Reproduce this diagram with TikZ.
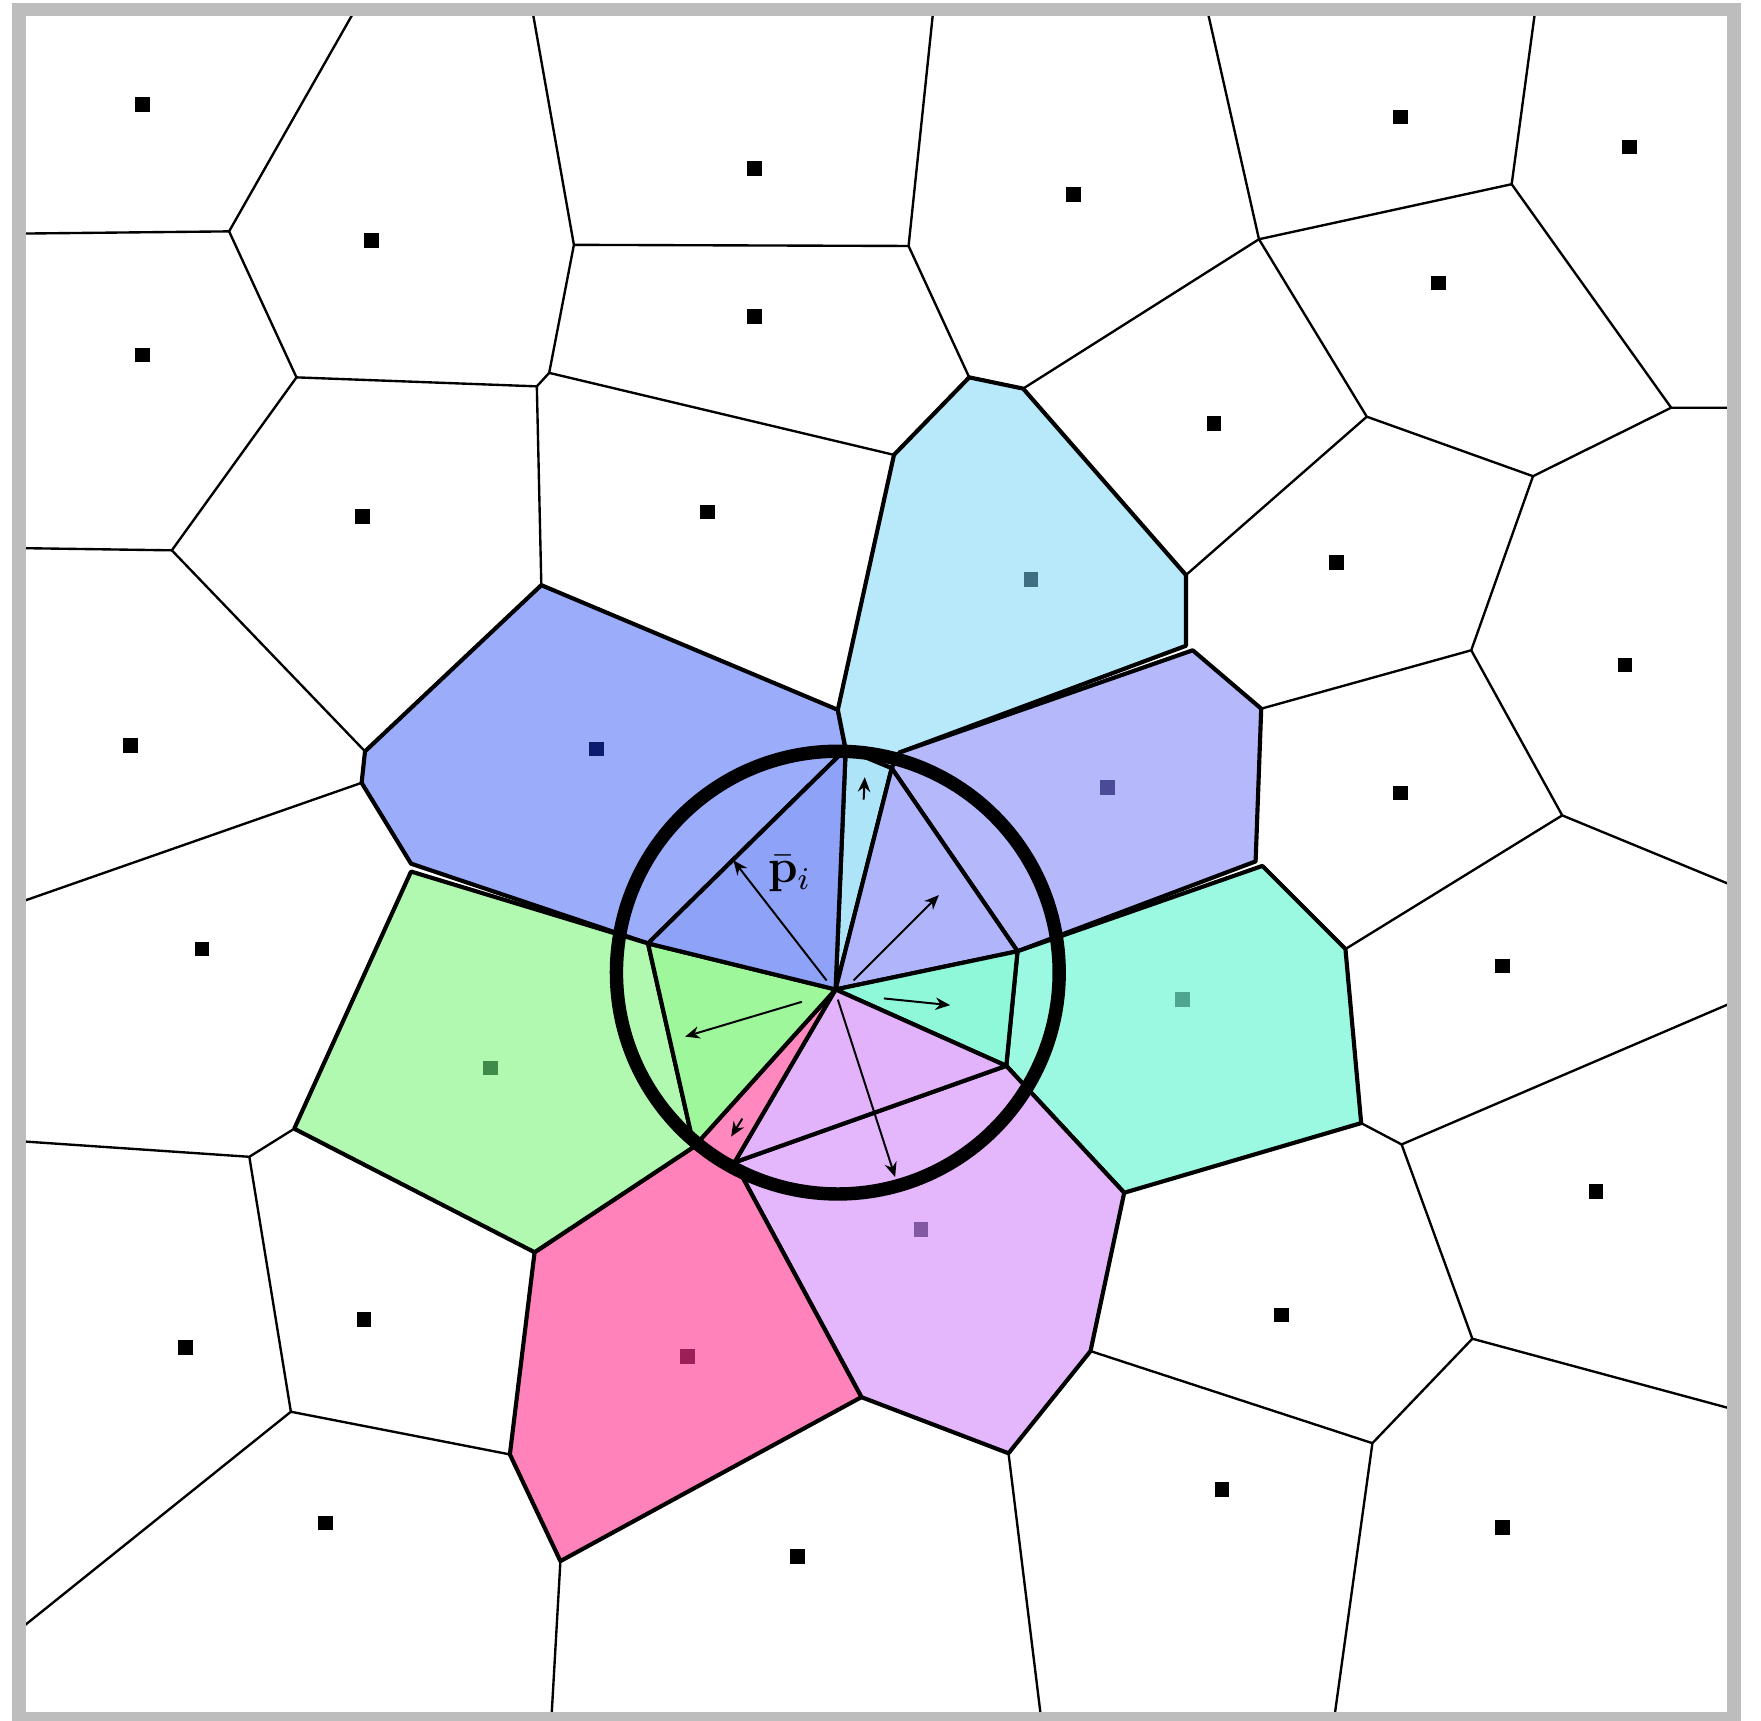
\documentclass[tikz,border=0pt]{standalone}
\usepackage{amsmath}
\usepackage{amssymb}
\usepackage{tikz}
\usepackage{xcolor}
\usetikzlibrary{arrows.meta}
\definecolor{vcblue}{HTML}{9BADFA}
\definecolor{vcbluetri}{HTML}{8EA2F8}
\definecolor{vcbluedot}{HTML}{0B1C6E}
\definecolor{vcsky}{HTML}{B8E9FB}
\definecolor{vcskytri}{HTML}{ADE4F8}
\definecolor{vcskydot}{HTML}{3F6E82}
\definecolor{vclav}{HTML}{B5B9FB}
\definecolor{vclavtri}{HTML}{B0B4FA}
\definecolor{vclavdot}{HTML}{4B4A96}
\definecolor{vcmint}{HTML}{9AF9E0}
\definecolor{vcminttri}{HTML}{8EF8D9}
\definecolor{vcmintdot}{HTML}{4FA68E}
\definecolor{vcpurple}{HTML}{E4B6FB}
\definecolor{vcpurpletri}{HTML}{E2B2FB}
\definecolor{vcpurpledot}{HTML}{8358A3}
\definecolor{vcpink}{HTML}{FF82BA}
\definecolor{vcpinktri}{HTML}{FF88BE}
\definecolor{vcpinkdot}{HTML}{9C2058}
\definecolor{vcgreen}{HTML}{B1F9B1}
\definecolor{vcgreentri}{HTML}{9EF89B}
\definecolor{vcgreendot}{HTML}{3E8B4A}
\definecolor{vcframe}{HTML}{BDBDBD}
\tikzset{
  vor/.style={draw=black, line width=0.6pt, line join=round},
  cellb/.style={draw=black, line width=1.05pt, line join=round},
  site/.style={rectangle, fill=black, draw=none, inner sep=0pt, minimum size=1.3mm},
  push/.style={-{Stealth[length=1.3mm,width=1.1mm]}, line width=0.5pt},
  ring/.style={draw=black, line width=3.4pt},
  frame/.style={draw=vcframe, line width=3.4pt}
}

\begin{document}
\begin{tikzpicture}[x=0.01cm, y=-0.01cm]
  \useasboundingbox (0,0) rectangle (1568,1532);
  % inserted site and its cell
  \coordinate (C) at (744,881);
  \coordinate (A1) at (753,667);
  \coordinate (A2) at (794,684);
  \coordinate (A3) at (906,847);
  \coordinate (A4) at (896,949);
  \coordinate (A5) at (654,1035);
  \coordinate (A6) at (618,1021);
  \coordinate (A7) at (577,840);
  \coordinate (P) at (801,670);
  % voronoi vertices
  \coordinate (V1) at (204,206);
  \coordinate (V2) at (264,336);
  \coordinate (V3) at (478,344);
  \coordinate (V4) at (153,490);
  \coordinate (V5) at (325,669);
  \coordinate (Va) at (489,332);
  \coordinate (Vc) at (511,218);
  \coordinate (Vd) at (809,219);
  \coordinate (Ve) at (863,336);
  \coordinate (Vf) at (1121,213);
  \coordinate (Vg) at (1346,164);
  \coordinate (Vh) at (1217,371);
  \coordinate (Vi) at (1365,424);
  \coordinate (Vj) at (1488,363);
  \coordinate (Vk) at (911,346);
  \coordinate (Vl) at (796,405);
  \coordinate (Vm) at (1056,512);
  \coordinate (Vmb) at (1056,575);
  \coordinate (Vml) at (1062,579);
  \coordinate (Vn) at (1310,579);
  \coordinate (Vo) at (1123,631);
  \coordinate (Vol) at (1118,767);
  \coordinate (Voc) at (1124,771);
  \coordinate (Vp) at (1391,726);
  \coordinate (Vq) at (1198,845);
  \coordinate (Vr) at (1212,1000);
  \coordinate (Vs) at (1248,1019);
  \coordinate (Vt) at (1311,1192);
  \coordinate (Vu) at (1222,1285);
  \coordinate (Vcp) at (1001,1062);
  \coordinate (Vv) at (971,1203);
  \coordinate (Vw) at (898,1294);
  \coordinate (Vx) at (767,1244);
  \coordinate (Vy) at (499,1390);
  \coordinate (Vz) at (454,1295);
  \coordinate (W1) at (476,1115);
  \coordinate (W2) at (262,1005);
  \coordinate (W3) at (222,1030);
  \coordinate (W4) at (259,1257);
  \coordinate (W5) at (322,697);
  \coordinate (W6b) at (366,769);
  \coordinate (W6g) at (366,776);
  \coordinate (W7) at (482,521);
  \coordinate (W8) at (746,632);
  % ends on the border
  \coordinate (b1) at (316,9);
  \coordinate (b2) at (16,208);
  \coordinate (b3) at (16,488);
  \coordinate (b4) at (474,9);
  \coordinate (b5) at (831,9);
  \coordinate (b6) at (1075,9);
  \coordinate (b7) at (1367,9);
  \coordinate (b8) at (1544,363);
  \coordinate (b9) at (1544,789);
  \coordinate (b10) at (1544,892);
  \coordinate (b11) at (1544,1255);
  \coordinate (b12) at (1188,1530);
  \coordinate (b13) at (927,1530);
  \coordinate (b14) at (491,1530);
  \coordinate (b15) at (16,1452);
  \coordinate (b16) at (16,1016);
  \coordinate (b17) at (16,804);

  % thin edges
  \draw[vor] (b1) -- (V1) -- (b2);
  \draw[vor] (V1) -- (V2) -- (V3) -- (Va) -- (Vc) -- (b4);
  \draw[vor] (V2) -- (V4) -- (b3);
  \draw[vor] (V4) -- (V5);
  \draw[vor] (V3) -- (W7);
  \draw[vor] (Vc) -- (Vd) -- (b5);
  \draw[vor] (Vd) -- (Ve);
  \draw[vor] (Va) -- (Vl);
  \draw[vor] (Vk) -- (Vf) -- (b6);
  \draw[vor] (Vf) -- (Vg) -- (b7);
  \draw[vor] (Vf) -- (Vh) -- (Vi) -- (Vj) -- (b8);
  \draw[vor] (Vg) -- (Vj);
  \draw[vor] (Vh) -- (Vm);
  \draw[vor] (Vi) -- (Vn) -- (Vo);
  \draw[vor] (Vn) -- (Vp) -- (b9);
  \draw[vor] (Vp) -- (Vq);
  \draw[vor] (Vr) -- (Vs) -- (b10);
  \draw[vor] (Vs) -- (Vt) -- (b11);
  \draw[vor] (Vt) -- (Vu) -- (b12);
  \draw[vor] (Vu) -- (Vv);
  \draw[vor] (Vw) -- (b13);
  \draw[vor] (Vy) -- (b14);
  \draw[vor] (Vz) -- (W4) -- (b15);
  \draw[vor] (W4) -- (W3) -- (b16);
  \draw[vor] (W3) -- (W2);
  \draw[vor] (W5) -- (b17);

  % neighbour cells
  \path[cellb, fill=vcblue] (W7) -- (W8) -- (A1) -- (A7) -- (W6b) -- (W5) -- (V5) -- cycle;
  \path[cellb, fill=vcsky] (Vl) -- (Ve) -- (Vk) -- (Vm) -- (Vmb) -- (P) -- (A2) -- (A1) -- (W8) -- cycle;
  \path[cellb, fill=vclav] (P) -- (Vml) -- (Vo) -- (Vol) -- (A3) -- (A2) -- cycle;
  \path[cellb, fill=vcmint] (A3) -- (Voc) -- (Vq) -- (Vr) -- (Vcp) -- (A4) -- cycle;
  \path[cellb, fill=vcpurple] (A4) -- (Vcp) -- (Vv) -- (Vw) -- (Vx) -- (A5) -- cycle;
  \path[cellb, fill=vcpink] (W1) -- (A6) -- (A5) -- (Vx) -- (Vy) -- (Vz) -- cycle;
  \path[cellb, fill=vcgreen] (W6g) -- (A7) -- (A6) -- (W1) -- (W2) -- cycle;

  % stolen parts
  \path[cellb, fill=vcskytri] (C) -- (A1) -- (A2) -- cycle;
  \path[cellb, fill=vclavtri] (C) -- (A2) -- (A3) -- cycle;
  \path[cellb, fill=vcminttri] (C) -- (A3) -- (A4) -- cycle;
  \path[cellb, fill=vcpurpletri] (C) -- (A4) -- (A5) -- cycle;
  \path[cellb, fill=vcpinktri] (C) -- (A5) -- (A6) -- cycle;
  \path[cellb, fill=vcgreentri] (C) -- (A6) -- (A7) -- cycle;
  \path[cellb, fill=vcbluetri] (C) -- (A7) -- (A1) -- cycle;

  % sites
  \node[site] (s1) at (127,93) {};
  \node[site] (s2) at (331,214) {};
  \node[site] (s3) at (127,316) {};
  \node[site] (s4) at (323,460) {};
  \node[site] (s5) at (672,150) {};
  \node[site] (s6) at (672,282) {};
  \node[site] (s7) at (630,456) {};
  \node[site] (s8) at (956,173) {};
  \node[site] (s9) at (1247,104) {};
  \node[site] (s10) at (1451,131) {};
  \node[site] (s11) at (1281,252) {};
  \node[site] (s12) at (1081,377) {};
  \node[site] (s13) at (1190,501) {};
  \node[site] (s14) at (1447,592) {};
  \node[site] (s15) at (1247,706) {};
  \node[site] (s16) at (1338,860) {};
  \node[site] (s17) at (1421,1061) {};
  \node[site] (s18) at (1141,1171) {};
  \node[site] (s19) at (1088,1326) {};
  \node[site] (s20) at (1338,1360) {};
  \node[site] (s21) at (710,1386) {};
  \node[site] (s22) at (290,1356) {};
  \node[site] (s23) at (165,1200) {};
  \node[site] (s24) at (324,1175) {};
  \node[site] (s25) at (180,845) {};
  \node[site] (s26) at (116,664) {};
  \node[site, fill=vcbluedot] (sblue) at (531,667) {};
  \node[site, fill=vcskydot] (ssky) at (918,516) {};
  \node[site, fill=vclavdot] (slav) at (986,701) {};
  \node[site, fill=vcmintdot] (smint) at (1053,890) {};
  \node[site, fill=vcgreendot] (sgreen) at (437,951) {};
  \node[site, fill=vcpinkdot] (spink) at (612,1208) {};
  \node[site, fill=vcpurpledot] (spurple) at (820,1095) {};

  % circle round the new site
  \coordinate (O) at (746,866);
  \draw[ring] (O) circle[radius=1.97cm];

  % weights
  \coordinate (u1) at (736,873); \coordinate (t1) at (653,766);
  \coordinate (u2) at (769,712); \coordinate (t2) at (770,692);
  \coordinate (u3) at (760,873); \coordinate (t3) at (836,797);
  \coordinate (u4) at (787,889); \coordinate (t4) at (846,895);
  \coordinate (u5) at (746,890); \coordinate (t5) at (797,1048);
  \coordinate (u6) at (661,996); \coordinate (t6) at (651,1012);
  \coordinate (u7) at (714,892); \coordinate (t7) at (610,923);
  \draw[push] (u1) -- (t1);
  \draw[push] (u2) -- (t2);
  \draw[push] (u3) -- (t3);
  \draw[push] (u4) -- (t4);
  \draw[push] (u5) -- (t5);
  \draw[push] (u6) -- (t6);
  \draw[push] (u7) -- (t7);
  \node[font=\large] (plabel) at (703,778) {$\bar{\mathbf{p}}_i$};

  \draw[frame] (17,8.5) rectangle (1544,1530);
\end{tikzpicture}
\end{document}
